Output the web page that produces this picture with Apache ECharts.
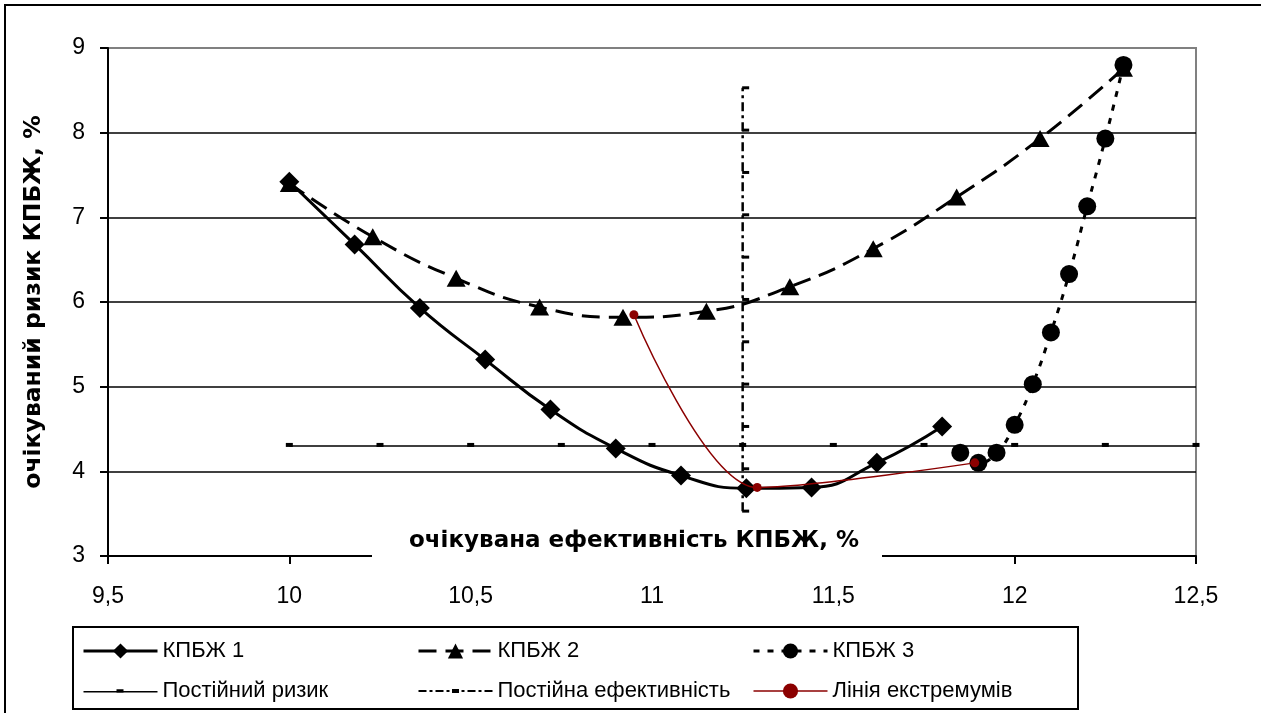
<!DOCTYPE html>
<html>
<head>
<meta charset="utf-8">
<style>
  html, body { margin: 0; padding: 0; background: #fff; }
  #chart { width: 1261px; height: 713px; }
</style>
<script src="https://cdn.jsdelivr.net/npm/echarts@6/dist/echarts.min.js"></script>
</head>
<body>
<div id="chart"></div>
<script>
// ---- data ----
const k1X = [10, 10.18, 10.36, 10.54, 10.72, 10.9, 11.08, 11.26, 11.44, 11.62, 11.8];
const k1Y = [7.42, 6.68, 5.93, 5.32, 4.73, 4.27, 3.95, 3.80, 3.81, 4.10, 4.53];
const k2X = [10, 10.23, 10.46, 10.69, 10.92, 11.15, 11.38, 11.61, 11.84, 12.07, 12.3];
const k2Y = [7.40, 6.77, 6.28, 5.94, 5.82, 5.89, 6.18, 6.63, 7.24, 7.93, 8.76];
const k3X = [11.85, 11.9, 11.95, 12.0, 12.05, 12.1, 12.15, 12.2, 12.25, 12.3];
const k3Y = [4.22, 4.10, 4.22, 4.55, 5.03, 5.64, 6.33, 7.13, 7.93, 8.80];
const riskX = [10, 10.25, 10.5, 10.75, 11, 11.25, 11.5, 11.75, 12, 12.25, 12.5];
const riskY = [4.3, 4.3, 4.3, 4.3, 4.3, 4.3, 4.3, 4.3, 4.3, 4.3, 4.3];
const effX = [11.25, 11.25, 11.25, 11.25, 11.25, 11.25, 11.25, 11.25, 11.25, 11.25, 11.25];
const effY = [3.53, 4.03, 4.53, 5.03, 5.53, 6.03, 6.53, 7.03, 7.53, 8.03, 8.53];
const extX = [10.95, 11.29, 11.89];
const extY = [5.85, 3.81, 4.10];
const names = ['КПБЖ 1', 'КПБЖ 2', 'КПБЖ 3', 'Постійний ризик', 'Постійна ефективність', 'Лінія екстремумів'];
const xTitle = 'очікувана ефективність КПБЖ, %';
const yTitle = 'очікуваний ризик КПБЖ, %';

const zip = (xs, ys) => xs.map((x, i) => [x, ys[i]]);
const fmt = v => String(v).replace('.', ',');
const FONT = 'Liberation Sans, Arial, sans-serif';
const TFONT = 'DejaVu Sans, Liberation Sans, sans-serif';

// legend icons for the two reference lines (line + small square marker)
const riskIcon = 'path://M0 9.25H74V10.75H0Z M33 7.5H40V11H33Z';
const effIcon = 'path://M0 9H8V11H0Z M11 9H14V11H11Z M17 9H25V11H17Z M28 9H31V11H28Z M33.5 8H40.5V12H33.5Z M43 9H46V11H43Z M49 9H57V11H49Z M60 9H63V11H60Z M66 9H74V11H66Z';

const chart = echarts.init(document.getElementById('chart'), null, { renderer: 'canvas' });

const legendBase = {
  orient: 'vertical',
  top: 640,
  padding: 0,
  itemWidth: 74,
  itemHeight: 19,
  itemGap: 18,
  textStyle: { fontSize: 22, lineHeight: 22, color: '#000', fontFamily: FONT }
};

chart.setOption({
  animation: false,
  backgroundColor: '#fff',
  textStyle: { fontFamily: FONT },
  grid: {
    left: 108, right: 65, top: 48, bottom: 157,
    show: true, borderColor: '#808080', borderWidth: 2
  },
  xAxis: {
    type: 'value', min: 9.5, max: 12.5, interval: 0.5,
    axisLine: { lineStyle: { color: '#000', width: 2 } },
    axisTick: { length: 8, lineStyle: { color: '#000', width: 2 } },
    axisLabel: { formatter: fmt, fontSize: 23, color: '#000', margin: 29, fontFamily: FONT },
    splitLine: { show: false }
  },
  yAxis: {
    type: 'value', min: 3, max: 9, interval: 1,
    axisLine: { show: true, lineStyle: { color: '#000', width: 2 } },
    axisTick: { show: true, length: 8, lineStyle: { color: '#000', width: 2 } },
    axisLabel: { formatter: fmt, fontSize: 23, color: '#000', margin: 23, fontFamily: FONT },
    splitLine: { show: true, showMaxLine: false, lineStyle: { color: '#000', width: 1.5 } },
    name: yTitle, nameLocation: 'middle', nameGap: 62, nameRotate: 90,
    nameTextStyle: { fontSize: 23.5, fontWeight: 'bold', color: '#000', fontFamily: TFONT }
  },
  legend: [
    Object.assign({}, legendBase, { left: 82, data: [
      { name: names[0], lineStyle: { width: 3 } },
      { name: names[3], icon: riskIcon }
    ] }),
    Object.assign({}, legendBase, { left: 417, data: [
      { name: names[1], lineStyle: { width: 3 } },
      { name: names[4], icon: effIcon }
    ] }),
    Object.assign({}, legendBase, { left: 752, data: [
      { name: names[2], lineStyle: { width: 3 } },
      { name: names[5], lineStyle: { width: 1.5 } }
    ] })
  ],
  graphic: [
    { type: 'rect', z: 100, shape: { x: 5, y: 5, width: 1300, height: 800 },
      style: { fill: 'none', stroke: '#000', lineWidth: 2 }, silent: true },
    { type: 'rect', z: 100, shape: { x: 73, y: 627, width: 1005, height: 82 },
      style: { fill: 'none', stroke: '#000', lineWidth: 2 }, silent: true },
    { type: 'rect', z: 100, shape: { x: 372, y: 549, width: 510, height: 19 },
      style: { fill: '#fff' }, silent: true },
    { type: 'text', z: 101, x: 409, y: 541,
      style: { text: xTitle, font: 'bold 23px ' + TFONT, fill: '#000',
               textAlign: 'left', textVerticalAlign: 'middle' }, silent: true }
  ],
  series: [
    { name: names[3], type: 'line', data: zip(riskX, riskY), z: 2,
      symbol: 'rect', symbolSize: [7, 4], symbolOffset: [0, -1],
      lineStyle: { color: '#000', width: 1.5 }, itemStyle: { color: '#000' } },
    { name: names[4], type: 'line', data: zip(effX, effY), z: 2,
      symbol: 'rect', symbolSize: [7, 3], symbolOffset: [3, 0],
      lineStyle: { color: '#000', width: 2.5, type: [9, 4, 3, 4] }, itemStyle: { color: '#000' } },
    { name: names[0], type: 'line', data: zip(k1X, k1Y), smooth: true, z: 3,
      symbol: 'diamond', symbolSize: 20,
      lineStyle: { color: '#000', width: 3 }, itemStyle: { color: '#000' } },
    { name: names[1], type: 'line', data: zip(k2X, k2Y), smooth: true, z: 3,
      symbol: 'triangle', symbolSize: [19, 17],
      lineStyle: { color: '#000', width: 3, type: [18, 9] }, itemStyle: { color: '#000' } },
    { name: names[2], type: 'line', data: zip(k3X, k3Y), smooth: true, z: 3,
      symbol: 'circle', symbolSize: 18,
      lineStyle: { color: '#000', width: 3, type: [6, 8] }, itemStyle: { color: '#000' } },
    { name: names[5], type: 'line', data: zip(extX, extY), smooth: 0.3, z: 4,
      symbol: 'circle', symbolSize: 9,
      lineStyle: { color: '#8B0000', width: 1.5 }, itemStyle: { color: '#8B0000' } }
  ]
});
</script>
</body>
</html>
